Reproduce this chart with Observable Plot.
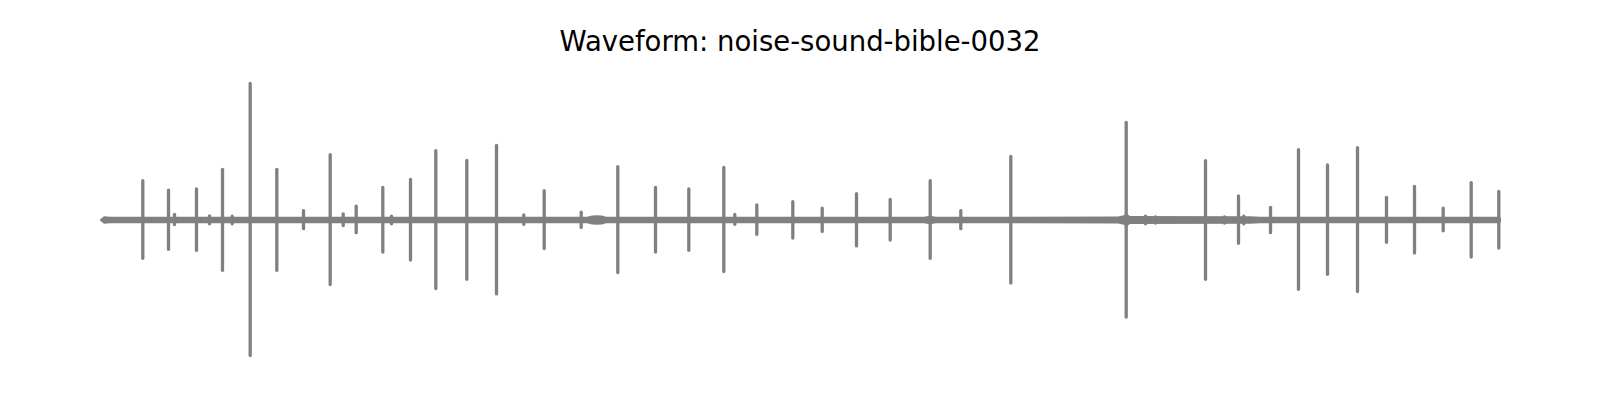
<!DOCTYPE html>
<html>
<head>
<meta charset="utf-8">
<script src="https://cdn.jsdelivr.net/npm/d3@7"></script>
<script src="https://cdn.jsdelivr.net/npm/@observablehq/plot@0.6"></script>
<style>
  html, body { margin: 0; padding: 0; background: #fff; }
  #wrap { position: relative; width: 1600px; height: 400px; overflow: hidden; }
  #title { position: absolute; left: 0; width: 1600px; top: 28px; text-align: center;
           font-family: "DejaVu Sans", sans-serif; font-size: 27.5px; line-height: 1; color: #000; }
  #chart { position: absolute; left: 0; top: 0; }
</style>
</head>
<body>
<div id="wrap">
  <div id="chart"></div>
  <div id="title">Waveform: noise-sound-bible-0032</div>
</div>
<script>
// Time (s) of each transient and its positive / negative peak amplitude
const spikeTime = [0.423, 0.68, 0.74, 0.96, 1.09, 1.22, 1.317, 1.497, 1.763, 2.03, 2.297, 2.427, 2.557, 2.823, 2.91,
  3.10, 3.353, 3.663, 3.96, 4.233, 4.437, 4.807, 5.173, 5.55, 5.883, 6.233, 6.343, 6.563, 6.923, 7.217, 7.56, 7.897,
  8.297, 8.603, 9.103, 10.257, 10.45, 10.55, 11.05, 11.24, 11.38, 11.433, 11.70, 11.98, 12.27, 12.57, 12.86, 13.14,
  13.427, 13.707, 13.983];
const spikeUp = [0.285, 0.217, 0.04, 0.225, 0.03, 0.367, 0.027, 0.99, 0.367, 0.068, 0.473, 0.045, 0.1, 0.236, 0.027,
  0.294, 0.502, 0.432, 0.541, 0.037, 0.212, 0.056, 0.386, 0.236, 0.225, 0.381, 0.04, 0.109, 0.133, 0.085, 0.191, 0.149,
  0.285, 0.068, 0.461, 0.707, 0.027, 0.022, 0.43, 0.022, 0.174, 0.027, 0.092, 0.509, 0.399, 0.524, 0.164, 0.244,
  0.085, 0.27, 0.207];
const spikeDown = [0.278, 0.212, 0.033, 0.22, 0.027, 0.365, 0.027, 0.982, 0.365, 0.063, 0.468, 0.04, 0.092, 0.232, 0.027,
  0.29, 0.497, 0.43, 0.536, 0.031, 0.207, 0.054, 0.381, 0.232, 0.22, 0.374, 0.031, 0.104, 0.131, 0.083, 0.188, 0.145,
  0.278, 0.063, 0.457, 0.703, 0.027, 0.022, 0.43, 0.022, 0.169, 0.027, 0.092, 0.502, 0.394, 0.519, 0.162, 0.239,
  0.078, 0.268, 0.203];

// Background noise envelope (time in s, amplitude)
const envTime = [0, 0.04, 0.1, 4.87, 4.92, 4.97, 5.02, 5.06, 8.24, 8.3, 8.36, 10.18, 10.24, 10.26, 10.3, 11.5, 11.6, 14.0, 14.01];
const envAmp  = [0.004, 0.028, 0.023, 0.023, 0.032, 0.034, 0.032, 0.023, 0.023, 0.03, 0.023, 0.025, 0.035, 0.05, 0.029, 0.027, 0.024, 0.024, 0.01];

const duration = 14.01;
const gray = "#808080";

const spikes = spikeTime.map((t, i) => ({t, up: spikeUp[i], down: -spikeDown[i]}));
const env = envTime.map((t, i) => ({t, lo: -envAmp[i], hi: envAmp[i]}));

const chart = Plot.plot({
  width: 1600,
  height: 400,
  marginLeft: 100,
  marginRight: 99,
  marginTop: 82,
  marginBottom: 42,
  x: {domain: [0, duration], axis: null},
  y: {domain: [-1, 1], axis: null},
  marks: [
    Plot.areaY(env, {x: "t", y1: "lo", y2: "hi", fill: gray, curve: "linear"}),
    Plot.ruleX(spikes, {x: "t", y1: "down", y2: "up", stroke: gray, strokeWidth: 3.3,
      strokeLinecap: "round", shapeRendering: "geometricPrecision"})
  ]
});
document.getElementById("chart").appendChild(chart);
</script>
</body>
</html>
